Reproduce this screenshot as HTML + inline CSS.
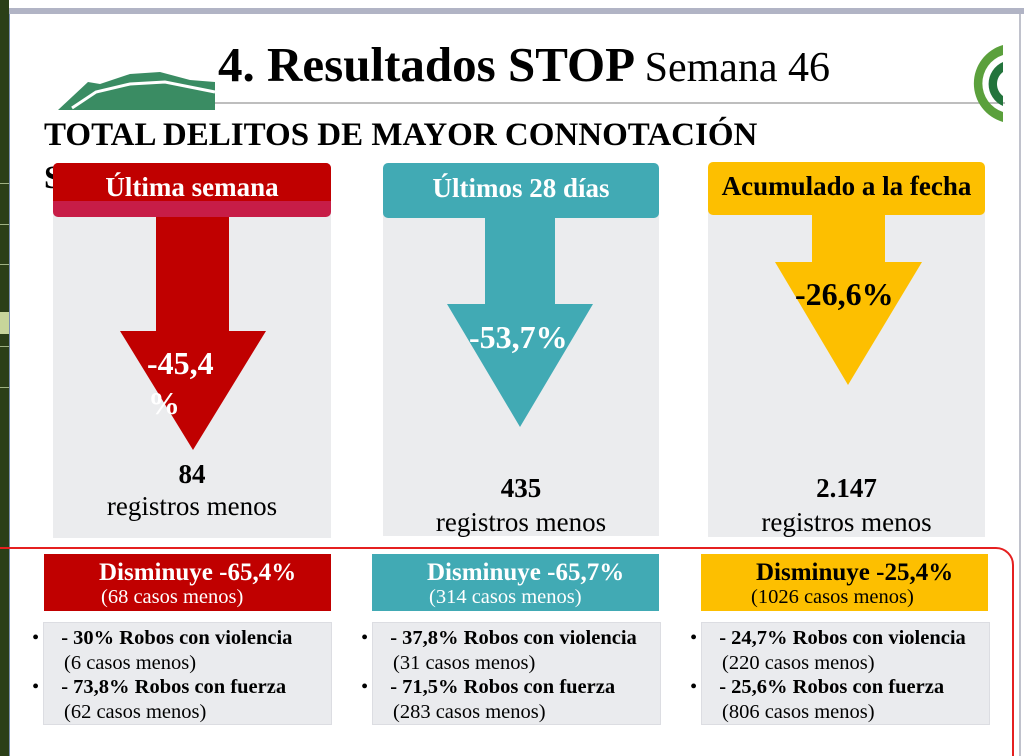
<!DOCTYPE html>
<html style="overflow:hidden;height:756px"><head><meta charset="utf-8"><style>
html,body{margin:0;width:1024px;height:756px;overflow:hidden;}
body{position:relative;background:#fff;font-family:"Liberation Serif",serif;}
.a{position:absolute;}
.c{text-align:center;}
</style></head><body>
<div class="a" style="left:0;top:8px;width:1024px;height:6px;background:#b1b4c5"></div>
<div class="a" style="left:0;top:0;width:9px;height:756px;background:#2b3f17"></div>
<div class="a" style="left:0;top:183px;width:9px;height:1px;background:#9fb283"></div>
<div class="a" style="left:0;top:224px;width:9px;height:1px;background:#9fb283"></div>
<div class="a" style="left:0;top:264px;width:9px;height:1px;background:#9fb283"></div>
<div class="a" style="left:0;top:312px;width:9px;height:22px;background:#c7d59a"></div>
<div class="a" style="left:0;top:346px;width:9px;height:1px;background:#9fb283"></div>
<div class="a" style="left:0;top:387px;width:9px;height:1px;background:#9fb283"></div>
<div class="a" style="left:9px;top:14px;width:1px;height:742px;background:#7a8fb0"></div>
<div class="a" style="left:1019px;top:14px;width:2px;height:742px;background:#c0c2cc"></div>
<svg class="a" style="left:0;top:0" width="1024" height="130">
<path d="M58 110 L88 82 L100 84 L130 74 L160 72 L190 80 L215 82 L215 110 Z" fill="#3a8c63"/>
<path d="M72 108 L96 92 L130 84 L165 82 L215 92" stroke="#fff" stroke-width="3" fill="none"/>
<line x1="215" y1="103" x2="1005" y2="103" stroke="#a8a8a8" stroke-width="1.5"/>
<path d="M1003 45 A40 40 0 0 0 1003 122 L1003 112 A30 30 0 0 1 1003 55 Z" fill="#5ba03c"/>
<path d="M1003 62 A24 24 0 0 0 1003 106 L1003 96 A15 15 0 0 1 1003 72 Z" fill="#23743c"/>
</svg>
<div class="a" style="left:218px;top:37px;font-size:49px;font-weight:bold;white-space:nowrap;line-height:56px">4. Resultados STOP <span style="font-weight:normal;font-size:42px">Semana 46</span></div>
<div class="a" style="left:44px;top:116px;font-size:33px;font-weight:bold;white-space:nowrap;line-height:38px">TOTAL DELITOS DE MAYOR CONNOTACIÓN</div>
<div class="a" style="left:44px;top:159px;font-size:33px;font-weight:bold;line-height:38px">S</div>
<div class="a" style="left:53px;top:210px;width:278px;height:328px;background:#ebecee"></div>
<div class="a" style="left:383px;top:210px;width:276px;height:326px;background:#ebecee"></div>
<div class="a" style="left:708px;top:210px;width:277px;height:327px;background:#ebecee"></div>
<div class="a" style="left:53px;top:163px;width:278px;height:54px;background:#c71d47;border-radius:5px"></div>
<div class="a c" style="left:53px;top:163px;width:278px;height:38px;background:#c00000;border-radius:5px 5px 0 0;color:#fff;font-weight:bold;font-size:27px;line-height:48px;white-space:nowrap">Última semana</div>
<div class="a c" style="left:383px;top:163px;width:276px;height:55px;background:#41aab4;border-radius:5px;color:#fff;font-weight:bold;font-size:27px;line-height:50px;white-space:nowrap">Últimos 28 días</div>
<div class="a c" style="left:708px;top:162px;width:277px;height:53px;background:#fdbf00;border-radius:5px;color:#000;font-weight:bold;font-size:27px;line-height:48px;white-space:nowrap">Acumulado a la fecha</div>
<svg class="a" style="left:0;top:0" width="1024" height="540">
<polygon points="156,217 229,217 229,331 266,331 193,450 120,331 156,331" fill="#c00000"/>
<polygon points="485,218 555,218 555,304 593,304 520,427 447,304 485,304" fill="#41aab4"/>
<polygon points="812,215 885,215 885,262 922,262 848,385 775,262 812,262" fill="#fdbf00"/>
</svg>
<div class="a" style="left:147px;top:344px;color:#fff;font-weight:bold;font-size:32px;line-height:38px">-45,4</div>
<div class="a" style="left:148px;top:384px;color:#fff;font-weight:bold;font-size:32px;line-height:38px">%</div>
<div class="a" style="left:469px;top:318px;color:#fff;font-weight:bold;font-size:32px;line-height:38px;white-space:nowrap">-53,7%</div>
<div class="a" style="left:795px;top:275px;color:#000;font-weight:bold;font-size:32px;line-height:38px;white-space:nowrap">-26,6%</div>
<div class="a c" style="left:53px;top:458px;width:278px;font-size:27px;line-height:32px"><b>84</b><br>registros menos</div>
<div class="a c" style="left:383px;top:471px;width:276px;font-size:27px;line-height:34px"><b>435</b><br>registros menos</div>
<div class="a c" style="left:708px;top:471px;width:277px;font-size:27px;line-height:34px"><b>2.147</b><br>registros menos</div>
<div class="a" style="left:-20px;top:547px;width:1030px;height:230px;border:2px solid #e52020;border-radius:0 18px 18px 0"></div>
<div class="a" style="left:44px;top:554px;width:287px;height:57px;background:#c00000;color:#fff;white-space:nowrap"><div style="margin-left:55px;font-weight:bold;font-size:25px;line-height:28px;margin-top:5px">Disminuye -65,4%</div><div style="margin-left:57px;font-size:20.5px;line-height:20px">(68 casos menos)</div></div>
<div class="a" style="left:372px;top:554px;width:287px;height:57px;background:#41aab4;color:#fff;white-space:nowrap"><div style="margin-left:55px;font-weight:bold;font-size:25px;line-height:28px;margin-top:5px">Disminuye -65,7%</div><div style="margin-left:57px;font-size:20.5px;line-height:20px">(314 casos menos)</div></div>
<div class="a" style="left:701px;top:554px;width:287px;height:57px;background:#fdbf00;color:#000;white-space:nowrap"><div style="margin-left:55px;font-weight:bold;font-size:25px;line-height:28px;margin-top:5px">Disminuye -25,4%</div><div style="margin-left:50px;font-size:20.5px;line-height:20px">(1026 casos menos)</div></div>
<div class="a" style="left:43px;top:622px;width:287px;height:101px;background:#eaebee;border:1px solid #dcdde2"></div>
<div class="a" style="left:372px;top:622px;width:287px;height:101px;background:#eaebee;border:1px solid #dcdde2"></div>
<div class="a" style="left:701px;top:622px;width:287px;height:101px;background:#eaebee;border:1px solid #dcdde2"></div>
<div class="a" style="left:32px;top:626px;font-size:20.5px;line-height:24.7px;white-space:nowrap">
<div>•<span style="margin-left:22px"><b>- 30% Robos con violencia</b></span></div>
<div style="margin-left:32px">(6 casos menos)</div>
<div>•<span style="margin-left:22px"><b>- 73,8% Robos con fuerza</b></span></div>
<div style="margin-left:32px">(62 casos menos)</div></div>
<div class="a" style="left:361px;top:626px;font-size:20.5px;line-height:24.7px;white-space:nowrap">
<div>•<span style="margin-left:22px"><b>- 37,8% Robos con violencia</b></span></div>
<div style="margin-left:32px">(31 casos menos)</div>
<div>•<span style="margin-left:22px"><b>- 71,5% Robos con fuerza</b></span></div>
<div style="margin-left:32px">(283 casos menos)</div></div>
<div class="a" style="left:690px;top:626px;font-size:20.5px;line-height:24.7px;white-space:nowrap">
<div>•<span style="margin-left:22px"><b>- 24,7% Robos con violencia</b></span></div>
<div style="margin-left:32px">(220 casos menos)</div>
<div>•<span style="margin-left:22px"><b>- 25,6% Robos con fuerza</b></span></div>
<div style="margin-left:32px">(806 casos menos)</div></div>
</body></html>
